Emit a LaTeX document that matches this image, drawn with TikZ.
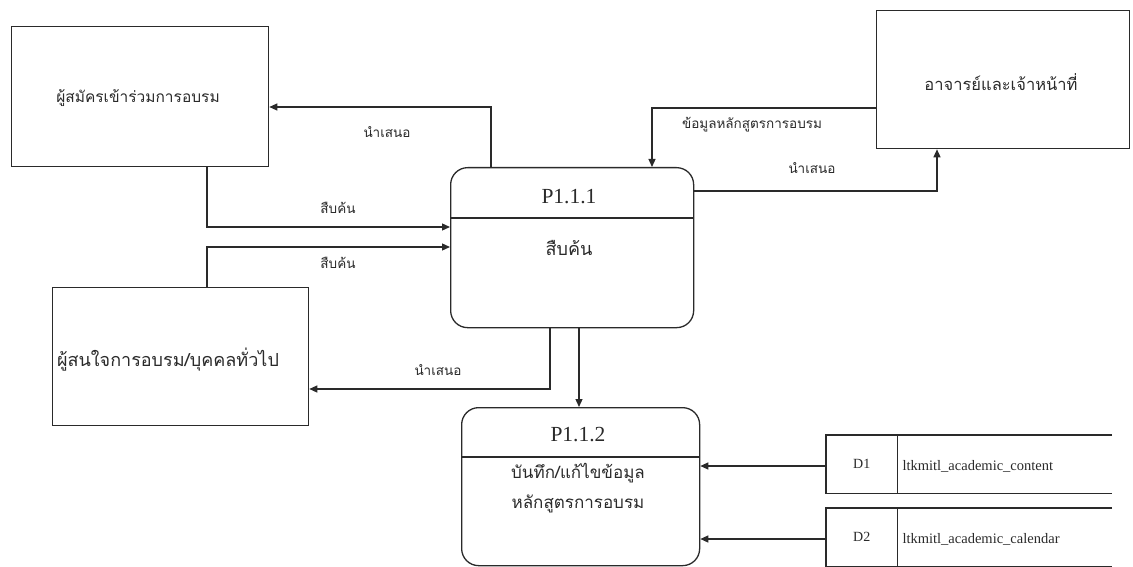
\documentclass[tikz,border=0pt]{standalone}
\usepackage{fontspec}
\setmainfont{Liberation Serif}
\newfontfamily\thai[Script=Thai]{Loma}
\usetikzlibrary{arrows.meta}
\definecolor{ink}{HTML}{2A2A2A}
\begin{document}
\begin{tikzpicture}[x=1pt,y=-1pt,
  ink/.style={draw=ink, line width=1.3pt},
  extbox/.style={ink, rectangle, anchor=north west, inner sep=0pt},
  exttext/.style={text=ink, inner sep=0pt, font=\thai\fontsize{#1}{18}\selectfont},
  procbox/.style={ink, rectangle, rounded corners=17pt, anchor=north west, inner sep=0pt},
  storecell/.style={rectangle, anchor=north west, inner sep=0pt, text=ink,
    minimum width=71pt, minimum height=58pt, font=\fontsize{14}{16}\selectfont},
  pid/.style={text=ink, font=\fontsize{21.5}{24}\selectfont},
  ptext/.style={text=ink, font=\thai\fontsize{#1}{20}\selectfont, align=center},
  flowlabel/.style={text=ink, font=\thai\fontsize{13.5}{16}\selectfont, inner sep=1pt},
  storename/.style={text=ink, anchor=west, font=\fontsize{14.5}{16}\selectfont},
  flow/.style={ink, -{Triangle[length=8pt,width=7pt]}}]
\useasboundingbox (0,0) rectangle (1133,567);

% external entities
\node[extbox, minimum width=257pt, minimum height=140pt] (A) at (11,26) {};
\node[exttext=15.5] (Atext) at (138,98) {ผู้สมัครเข้าร่วมการอบรม};
\node[extbox, minimum width=253pt, minimum height=138pt] (T) at (876,10) {};
\node[exttext=16.5] (Ttext) at (1001,82) {อาจารย์และเจ้าหน้าที่};
\node[extbox, minimum width=256pt, minimum height=138pt] (B) at (52,287) {};
\node[exttext=18] (Btext) at (168,360) {ผู้สนใจการอบรม/บุคคลทั่วไป};

% processes
\node[procbox, minimum width=243pt, minimum height=160pt] (P111) at (450,167) {};
\draw[ink] (P111.west |- 0,218) -- (P111.east |- 0,218);
\node[pid] (P111id) at (569,197) {P1.1.1};
\node[ptext=18] (P111txt) at (569,248) {สืบค้น};

\node[procbox, minimum width=238pt, minimum height=158pt] (P112) at (461,407) {};
\draw[ink] (P112.west |- 0,457) -- (P112.east |- 0,457);
\node[pid] (P112id) at (578,435) {P1.1.2};
\node[ptext=17] (P112txt1) at (578,473) {บันทึก/แก้ไขข้อมูล};
\node[ptext=17] (P112txt2) at (578,504) {หลักสูตรการอบรม};

% data stores
\node[storecell] (D1) at (826,435) {D1};
\draw[ink] (D1.north west) ++(286,0) -- (D1.north west) -- (D1.south west) -- ++(286,0);
\draw[ink] (D1.north east) -- (D1.south east);
\node[storename] (D1name) at (899,466) {ltkmitl\_academic\_content};

\node[storecell] (D2) at (826,508) {D2};
\draw[ink] (D2.north west) ++(286,0) -- (D2.north west) -- (D2.south west) -- ++(286,0);
\draw[ink] (D2.north east) -- (D2.south east);
\node[storename] (D2name) at (899,539) {ltkmitl\_academic\_calendar};

% data flows
\draw[flow] (P111.north -| 491,0) |- (A.east |- 0,107);
\node[flowlabel] (l1) at (387,132) {นำเสนอ};

\draw[flow] (T.west |- 0,108) -| (P111.north -| 652,0);
\node[flowlabel] (l2) at (752,125) {ข้อมูลหลักสูตรการอบรม};

\draw[flow] (P111.east |- 0,191) -| (T.south -| 937,0);
\node[flowlabel] (l3) at (812,168) {นำเสนอ};

\draw[flow] (A.south -| 207,0) |- (P111.west |- 0,227);
\node[flowlabel] (l4) at (338,208) {สืบค้น};

\draw[flow] (B.north -| 207,0) |- (P111.west |- 0,247);
\node[flowlabel] (l5) at (338,263) {สืบค้น};

\draw[flow] (P111.south -| 550,0) |- (B.east |- 0,389);
\node[flowlabel] (l6) at (438,370) {นำเสนอ};

\draw[flow] (P111.south -| 579,0) -- (P112.north -| 579,0);

\draw[flow] (D1.west |- 0,466) -- (P112.east |- 0,466);
\draw[flow] (D2.west |- 0,539) -- (P112.east |- 0,539);
\end{tikzpicture}
\end{document}
